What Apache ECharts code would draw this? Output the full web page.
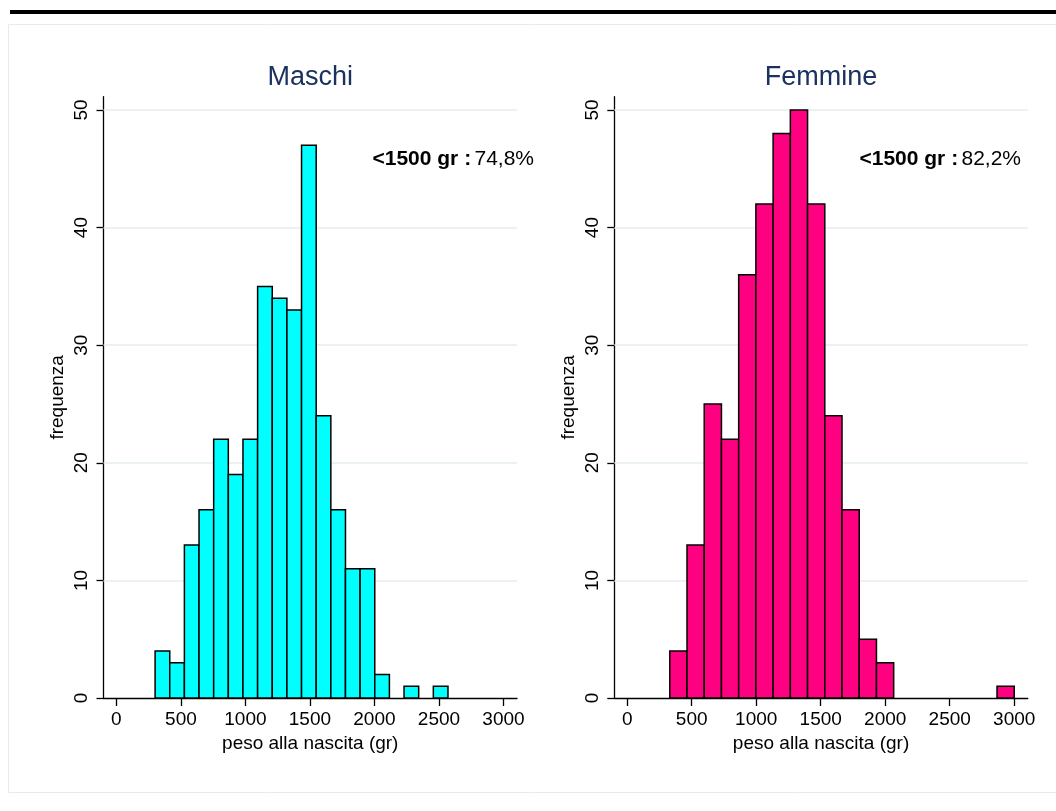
<!DOCTYPE html>
<html><head><meta charset="utf-8">
<script src="https://cdn.jsdelivr.net/npm/echarts@6/dist/echarts.min.js"></script>
<style>html,body{margin:0;padding:0;background:#fff}#c{width:1056px;height:811px}</style>
</head><body><div id="c"></div>
<script>
// ---- data ----
const panelTitles = ['Maschi', 'Femmine'];
const maleBinStart = 300, maleBinWidth = 113.5;
const maleCounts = [4, 3, 13, 16, 22, 19, 22, 35, 34, 33, 47, 24, 16, 11, 11, 2, 0, 1, 0, 1];
const femaleBinStart = 330, femaleBinWidth = 133.5;
const femaleCounts = [4, 13, 25, 22, 36, 42, 48, 50, 42, 24, 16, 5, 3, 0, 0, 0, 0, 0, 0, 1];
const xTickValues = [0, 500, 1000, 1500, 2000, 2500, 3000];
const yTickValues = [0, 10, 20, 30, 40, 50];
const yGridValues = [10, 20, 30, 40, 50];
const annotBold = '<1500 gr :';
const annotPct = ['74,8%', '82,2%'];
const xName = 'peso alla nascita (gr)';
const yName = 'frequenza';

// ---- build ----
const FONT = '"Liberation Sans", Arial, Helvetica, sans-serif';
const colors = ['#00ffff', '#ff0080'];
const gridTop = 96.7, gridH = 601.3, gridW = 413.5;
const gridLefts = [103.5, 614.3];

function bins(start, width, counts) {
  return counts.map((c, i) => [start + i * width, start + (i + 1) * width, c]);
}
const panelData = [bins(maleBinStart, maleBinWidth, maleCounts), bins(femaleBinStart, femaleBinWidth, femaleCounts)];

function makeRender(color) {
  return function (params, api) {
    const v = api.value(2);
    if (!v) return null;
    const p0 = api.coord([api.value(0), v]);
    const p1 = api.coord([api.value(1), 0]);
    return {
      type: 'rect',
      shape: { x: p0[0], y: p0[1], width: p1[0] - p0[0], height: p1[1] - p0[1] },
      style: { fill: color, stroke: '#000', lineWidth: 1.5 }
    };
  };
}

const grids = [], xAxes = [], yAxes = [], series = [], graphics = [];

graphics.push({ type: 'rect', z: -10, shape: { x: 8.5, y: 24.5, width: 1060, height: 768 },
  style: { fill: '#fff', stroke: '#e4ecef', lineWidth: 1 } });
graphics.push({ type: 'rect', z: -9, shape: { x: 10, y: 10, width: 1046, height: 4 }, style: { fill: '#000' } });

const plain = v => String(v);

[0, 1].forEach(i => {
  grids.push({ left: gridLefts[i], top: gridTop, width: gridW, height: gridH });
  xAxes.push({
    type: 'value', gridIndex: i, min: -100, max: 3105,
    axisLine: { show: true, onZero: false, lineStyle: { color: '#000', width: 1.3 } },
    axisTick: { show: true, customValues: xTickValues, length: 8, lineStyle: { color: '#000', width: 1.3 } },
    axisLabel: { customValues: xTickValues, formatter: plain, fontSize: 19, fontFamily: FONT, color: '#000', margin: 12 },
    splitLine: { show: false },
    name: xName, nameLocation: 'middle', nameGap: 34,
    nameTextStyle: { fontSize: 19, fontFamily: FONT, color: '#000' }
  });
  yAxes.push({
    type: 'value', gridIndex: i, min: 0, max: 51.13,
    axisLine: { show: true, onZero: false, lineStyle: { color: '#000', width: 1.3 } },
    axisTick: { show: true, customValues: yTickValues, length: 7, lineStyle: { color: '#000', width: 1.3 } },
    axisLabel: { customValues: yTickValues, formatter: plain, rotate: 90, fontSize: 19, fontFamily: FONT, color: '#000', margin: 12 },
    splitLine: { show: false },
    name: yName, nameLocation: 'middle', nameRotate: 90, nameGap: 36,
    nameTextStyle: { fontSize: 19, fontFamily: FONT, color: '#000' }
  });
  series.push({
    type: 'line', xAxisIndex: i, yAxisIndex: i, data: [], z: 1, silent: true,
    markLine: {
      silent: true, symbol: 'none', label: { show: false },
      lineStyle: { color: '#e6eef1', width: 1.6, type: 'solid' },
      data: yGridValues.map(v => ({ yAxis: v }))
    }
  });
  series.push({
    type: 'custom', xAxisIndex: i, yAxisIndex: i, z: 5,
    renderItem: makeRender(colors[i]),
    encode: { x: [0, 1], y: 2 },
    data: panelData[i]
  });
  graphics.push({
    type: 'text', x: gridLefts[i] + gridW / 2, y: 78,
    style: { text: panelTitles[i], fill: '#1c3160', font: '27px ' + FONT, textAlign: 'center', textVerticalAlign: 'middle' }
  });
});

const annotRight = [534, 1021];
[0, 1].forEach(i => {
  graphics.push({
    type: 'text', x: annotRight[i], y: 159,
    style: {
      text: '{b|' + annotBold + '} {n|' + annotPct[i] + '}', textAlign: 'right', textVerticalAlign: 'middle',
      rich: { b: { fontWeight: 'bold', fontSize: 21, fontFamily: FONT, fill: '#000' },
              n: { fontSize: 21, fontFamily: FONT, fill: '#000' } }
    }
  });
});

const chart = echarts.init(document.getElementById('c'), null, { renderer: 'canvas' });
chart.setOption({
  animation: false,
  backgroundColor: '#fff',
  grid: grids, xAxis: xAxes, yAxis: yAxes, series: series,
  graphic: graphics
});
</script></body></html>
